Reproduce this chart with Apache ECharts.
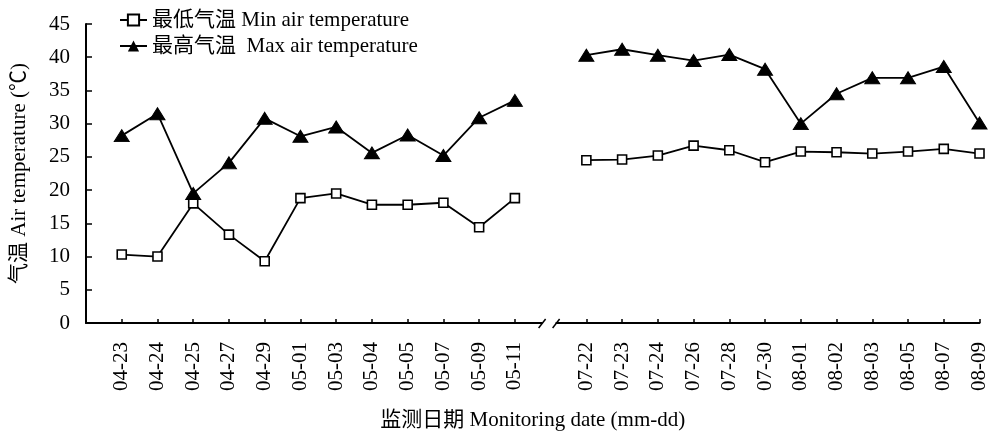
<!DOCTYPE html>
<html lang="zh-CN" style="height: 100%">
<head>
  <meta charset="utf-8">
</head>
<body style="height: 100%; margin: 0">
  <div id="container" style="width: 990px; height: 436px"></div>

  <script type="text/javascript" src="https://cdn.jsdelivr.net/npm/echarts@6.0.0/dist/echarts.min.js"></script>
  <script type="text/javascript">
    // dates; '' slots are the axis break (start and between the two periods)
    var dates = ['', '04-23', '04-24', '04-25', '04-27', '04-29', '05-01', '05-03', '05-04', '05-05', '05-07', '05-09', '05-11',
      '', '07-22', '07-23', '07-24', '07-26', '07-28', '07-30', '08-01', '08-02', '08-03', '08-05', '08-07', '08-09'];
    var minTemp = ['-', 10.3, 10.0, 18.0, 13.3, 9.3, 18.8, 19.5, 17.8, 17.8, 18.1, 14.4, 18.8,
      '-', 24.5, 24.6, 25.2, 26.7, 26.0, 24.2, 25.8, 25.7, 25.5, 25.8, 26.2, 25.5];
    var maxTemp = ['-', 28.2, 31.5, 19.5, 24.1, 30.8, 28.1, 29.5, 25.6, 28.3, 25.2, 30.9, 33.5,
      '-', 40.3, 41.2, 40.3, 39.5, 40.4, 38.2, 30.0, 34.5, 36.9, 36.9, 38.6, 30.1];
    var breakIndex = 13;

    var FONT = '"Liberation Serif", "Noto Sans CJK SC", serif';
    var FS = 21;

    var dom = document.getElementById('container');
    var myChart = echarts.init(dom, null, { renderer: 'canvas' });

    var option = {
      animation: false,
      backgroundColor: '#fff',
      textStyle: { fontFamily: FONT, color: '#000' },
      grid: { left: 86, right: 6, top: 24, bottom: 111 },
      legend: {
        orient: 'vertical',
        left: 114,
        top: 4,
        itemWidth: 27,
        itemHeight: 14,
        itemGap: 4,
        textStyle: { fontFamily: FONT, fontSize: FS, color: '#000', lineHeight: 22 },
        data: ['最低气温 Min air temperature', '最高气温  Max air temperature']
      },
      xAxis: {
        type: 'category',
        data: dates,
        boundaryGap: false,
        name: '监测日期 Monitoring date (mm-dd)',
        nameLocation: 'middle',
        nameGap: 87,
        nameTextStyle: { fontFamily: FONT, fontSize: FS, color: '#000' },
        axisLine: { lineStyle: { color: '#000', width: 2 } },
        axisTick: {
          inside: true,
          length: 4,
          lineStyle: { color: '#000', width: 1.5 },
          interval: function (idx, val) { return val !== ''; }
        },
        axisLabel: {
          rotate: 90,
          margin: 19,
          interval: 0,
          fontFamily: FONT,
          fontSize: FS,
          color: '#000'
        }
      },
      yAxis: {
        type: 'value',
        min: 0,
        max: 45,
        interval: 5,
        name: '气温 Air temperature (℃)',
        nameLocation: 'middle',
        nameGap: 56,
        nameTextStyle: { fontFamily: FONT, fontSize: FS, color: '#000' },
        splitLine: { show: false },
        axisLine: { show: true, lineStyle: { color: '#000', width: 2 } },
        axisTick: { show: true, inside: true, length: 6, lineStyle: { color: '#000', width: 1.5 } },
        axisLabel: { margin: 16, fontFamily: FONT, fontSize: FS, color: '#000' }
      },
      series: [
        {
          name: '最低气温 Min air temperature',
          type: 'line',
          data: minTemp,
          symbol: 'rect',
          symbolSize: 9,
          showAllSymbol: true,
          lineStyle: { color: '#000', width: 1.8 },
          itemStyle: { color: '#fff', borderColor: '#000', borderWidth: 1.6 },
          z: 3
        },
        {
          name: '最高气温  Max air temperature',
          type: 'line',
          data: maxTemp,
          symbol: 'triangle',
          symbolSize: [15, 12],
          showAllSymbol: true,
          lineStyle: { color: '#000', width: 1.8 },
          itemStyle: { color: '#000', borderColor: '#000' },
          z: 3
        }
      ]
    };

    myChart.setOption(option);

    // break marks on the x axis
    var bx = myChart.convertToPixel({ xAxisIndex: 0 }, breakIndex);
    var by = myChart.convertToPixel({ yAxisIndex: 0 }, 0);
    myChart.setOption({
      graphic: [
        { type: 'rect', shape: { x: bx - 8, y: by - 3, width: 13, height: 6 }, style: { fill: '#fff' }, z: 10 },
        { type: 'line', shape: { x1: bx - 12, y1: by + 5, x2: bx - 5, y2: by - 4 }, style: { stroke: '#000', lineWidth: 1.5 }, z: 11 },
        { type: 'line', shape: { x1: bx + 2, y1: by + 5, x2: bx + 9, y2: by - 4 }, style: { stroke: '#000', lineWidth: 1.5 }, z: 11 }
      ]
    });

    window.addEventListener('resize', myChart.resize);
  </script>
</body>
</html>
